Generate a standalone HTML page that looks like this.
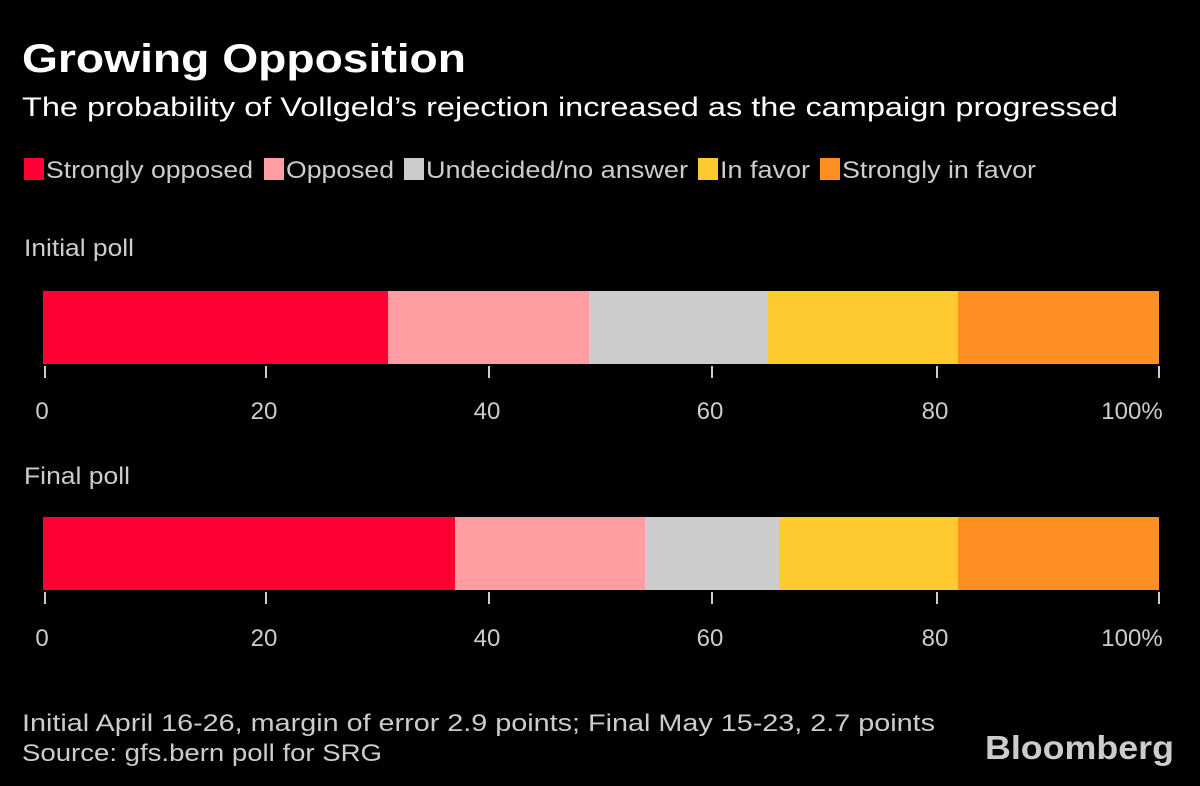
<!DOCTYPE html>
<html><head><meta charset="utf-8"><style>
body{margin:0;background:#000;width:1200px;height:781px;overflow:hidden;font-family:"Liberation Sans",sans-serif;color:#fff}
</style></head><body>
<svg width="1200" height="781" xmlns="http://www.w3.org/2000/svg" font-family="Liberation Sans, sans-serif">
<rect width="1200" height="781" fill="#000"/>
<text x="22" y="72" font-size="40" font-weight="bold" fill="#fff" textLength="444" lengthAdjust="spacingAndGlyphs">Growing Opposition</text>
<text x="22" y="116" font-size="27" fill="#fff" textLength="1096" lengthAdjust="spacingAndGlyphs">The probability of Vollgeld’s rejection increased as the campaign progressed</text>
<g font-size="24" fill="#ccc">
<rect x="24" y="158" width="20" height="22" fill="#ff0033"/><text x="46" y="178" textLength="207" lengthAdjust="spacingAndGlyphs">Strongly opposed</text>
<rect x="264" y="158" width="20" height="22" fill="#ff9da3"/><text x="286" y="178" textLength="108" lengthAdjust="spacingAndGlyphs">Opposed</text>
<rect x="404" y="158" width="20" height="22" fill="#cccccc"/><text x="426" y="178" textLength="262" lengthAdjust="spacingAndGlyphs">Undecided/no answer</text>
<rect x="698" y="158" width="20" height="22" fill="#ffc930"/><text x="720" y="178" textLength="90" lengthAdjust="spacingAndGlyphs">In favor</text>
<rect x="820" y="158" width="20" height="22" fill="#ff8f22"/><text x="842" y="178" textLength="194" lengthAdjust="spacingAndGlyphs">Strongly in favor</text>
<text x="24" y="256" textLength="110" lengthAdjust="spacingAndGlyphs">Initial poll</text>
<text x="24" y="484" textLength="106" lengthAdjust="spacingAndGlyphs">Final poll</text>
</g>
<rect x="43" y="291" width="345" height="73" fill="#ff0033"/>
<rect x="388" y="291" width="201" height="73" fill="#ff9da3"/>
<rect x="589" y="291" width="179" height="73" fill="#cccccc"/>
<rect x="768" y="291" width="190" height="73" fill="#ffc930"/>
<rect x="958" y="291" width="201" height="73" fill="#ff8f22"/>
<rect x="43" y="517" width="412" height="73" fill="#ff0033"/>
<rect x="455" y="517" width="190" height="73" fill="#ff9da3"/>
<rect x="645" y="517" width="134" height="73" fill="#cccccc"/>
<rect x="779" y="517" width="179" height="73" fill="#ffc930"/>
<rect x="958" y="517" width="201" height="73" fill="#ff8f22"/>
<g stroke="#ccc" stroke-width="2">
<line x1="45" y1="366" x2="45" y2="378"/><line x1="266" y1="366" x2="266" y2="378"/><line x1="489" y1="366" x2="489" y2="378"/><line x1="712" y1="366" x2="712" y2="378"/><line x1="937" y1="366" x2="937" y2="378"/><line x1="1159" y1="366" x2="1159" y2="378"/>
<line x1="45" y1="592" x2="45" y2="604"/><line x1="266" y1="592" x2="266" y2="604"/><line x1="489" y1="592" x2="489" y2="604"/><line x1="712" y1="592" x2="712" y2="604"/><line x1="937" y1="592" x2="937" y2="604"/><line x1="1159" y1="592" x2="1159" y2="604"/>
</g>
<g font-size="24" fill="#ccc" text-anchor="middle">
<text x="42" y="419">0</text><text x="264" y="419">20</text><text x="487" y="419">40</text><text x="710" y="419">60</text><text x="935" y="419">80</text><text x="1132" y="419">100%</text>
<text x="42" y="646">0</text><text x="264" y="646">20</text><text x="487" y="646">40</text><text x="710" y="646">60</text><text x="935" y="646">80</text><text x="1132" y="646">100%</text>
</g>
<text x="22" y="731" font-size="24" fill="#ccc" textLength="913" lengthAdjust="spacingAndGlyphs">Initial April 16-26, margin of error 2.9 points; Final May 15-23, 2.7 points</text>
<text x="22" y="761" font-size="24" fill="#ccc" textLength="360" lengthAdjust="spacingAndGlyphs">Source: gfs.bern poll for SRG</text>
<text x="985" y="759" font-size="33" font-weight="bold" fill="#ccc" textLength="189" lengthAdjust="spacingAndGlyphs">Bloomberg</text>
</svg>
</body></html>
